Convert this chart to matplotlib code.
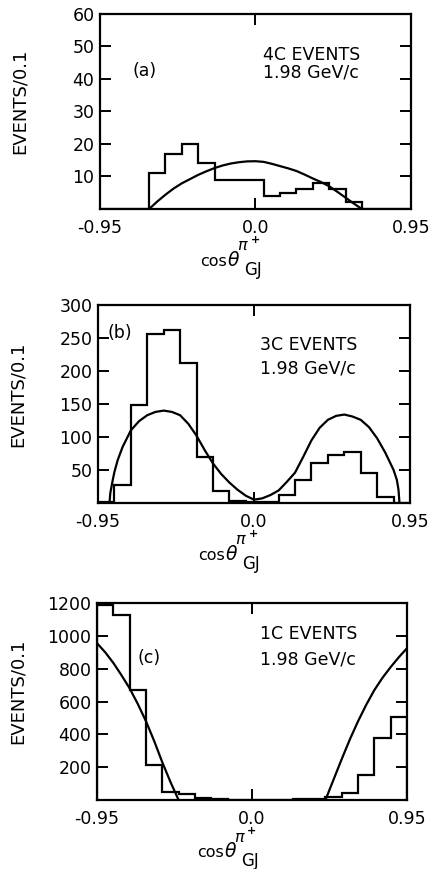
import numpy as np
import matplotlib
matplotlib.use("Agg")
import matplotlib.pyplot as plt

# bin edges, EVENTS/0.1
edges = np.linspace(-0.95, 0.95, 20)

# (a) 4C events
hist_a = [0, 0, 0, 11, 17, 20, 14, 9, 9, 9, 4, 5, 6, 8, 6, 2, 0, 0, 0]
curve_a_x = [-0.65, -0.6, -0.55, -0.5, -0.45, -0.4, -0.35, -0.3, -0.25, -0.2, -0.15, -0.1, -0.05,
             0.0, 0.05, 0.1, 0.15, 0.2, 0.25, 0.3, 0.35, 0.4, 0.45, 0.5, 0.55, 0.6, 0.65]
curve_a_y = [0, 2.3, 4.4, 6.3, 7.9, 9.2, 10.5, 11.6, 12.6, 13.4, 14.0, 14.4, 14.65,
             14.7, 14.5, 13.9, 13.2, 12.5, 11.7, 10.6, 9.4, 8.3, 7.0, 5.3, 3.5, 1.7, 0]

# (b) 3C events
hist_b = [2, 28, 148, 256, 262, 212, 70, 18, 3, 2, 2, 12, 35, 61, 72, 78, 46, 9, 0]
curve_b_x = [-0.88, -0.875, -0.86, -0.85, -0.83, -0.8, -0.75, -0.7, -0.65, -0.6, -0.55, -0.5,
             -0.45, -0.4, -0.35, -0.3, -0.25, -0.2, -0.15, -0.1, -0.05, 0.0, 0.05, 0.1,
             0.15, 0.2, 0.25, 0.3, 0.35, 0.4, 0.45, 0.5, 0.55, 0.6, 0.65, 0.7, 0.75, 0.8,
             0.85, 0.87, 0.88, 0.886]
curve_b_y = [0, 15, 35, 47, 65, 85, 110, 124, 133, 138, 140, 138,
             133, 120, 102, 80, 60, 44, 31, 20, 11, 5, 7, 12,
             19, 32, 46, 70, 95, 114, 126, 132, 134, 131, 126, 115, 98, 76,
             50, 35, 20, 0]

# (c) 1C events
hist_c = [1185, 1125, 670, 215, 50, 35, 12, 4, 2, 0, 0, 2, 4, 5, 20, 42, 155, 380, 505]
curve_c_left_x = [-0.95, -0.9, -0.85, -0.8, -0.75, -0.7, -0.65, -0.6, -0.55, -0.5, -0.45]
curve_c_left_y = [955, 900, 835, 760, 680, 585, 480, 360, 230, 110, 0]
curve_c_right_x = [0.45, 0.5, 0.55, 0.6, 0.65, 0.7, 0.75, 0.8, 0.85, 0.9, 0.95]
curve_c_right_y = [0, 125, 250, 370, 480, 580, 670, 745, 810, 870, 925]

W, H = 443, 869
fig = plt.figure(figsize=(W / 100, H / 100), dpi=100)
fs = 12.5
lw = 1.6


def px(x, y):
    # figure pixels (from top-left) -> figure fraction
    return x / W, 1 - y / H


def xlabel(left, bottom):
    # cos theta^{pi+}_{GJ} built from pieces, placed under the axes
    fig.text(*px(left + 100, bottom + 57), "cos", fontsize=fs - 1, va="baseline", ha="left")
    fig.text(*px(left + 127, bottom + 57), r"$\theta$", fontsize=fs + 1, va="baseline", ha="left")
    fig.text(*px(left + 143, bottom + 37), r"$\pi$", fontsize=fs - 1, va="center", ha="center")
    fig.text(*px(left + 155, bottom + 31), "+", fontsize=8, va="center", ha="center",
             fontweight="bold")
    fig.text(*px(left + 144, bottom + 61), "GJ", fontsize=fs - 0.5, va="center", ha="left")


def setup(ax, ymax, yticks, tag, name, tagpos, txtpos, spacing):
    ax.set_xlim(-0.95, 0.95)
    ax.set_ylim(0, ymax)
    for s in ax.spines.values():
        s.set_linewidth(1.6)
    ax.set_xticks([-0.95, 0.0, 0.95])
    ax.set_xticklabels(["-0.95", "0.0", "0.95"], fontsize=fs)
    ax.set_yticks(yticks)
    ax.set_yticklabels([str(v) for v in yticks], fontsize=fs)
    ax.tick_params(axis="y", direction="in", left=True, right=True, length=8, width=1.4, pad=4)
    ax.tick_params(axis="x", direction="in", top=True, bottom=True, length=8, width=1.4, pad=7)
    ax.set_ylabel("EVENTS/0.1", fontsize=fs + 0.5)
    ax.yaxis.set_label_coords(-0.228, 0.55)
    ax.text(tagpos[0], tagpos[1], tag, fontsize=fs, va="center", ha="left")
    ax.text(txtpos[0], txtpos[1], name + "\n1.98 GeV/c", fontsize=fs, va="center", ha="left",
            linespacing=spacing)


ax_a = fig.add_axes([0.2257, 0.7595, 0.7020, 0.2244])
ax_a.stairs(hist_a, edges, color="black", lw=lw)
ax_a.plot(curve_a_x, curve_a_y, color="black", lw=lw)
setup(ax_a, 60, [10, 20, 30, 40, 50, 60], "(a)", "4C EVENTS", (-0.75, 42.6), (0.045, 44.6), 0.95)
xlabel(100, 209)

ax_b = fig.add_axes([0.2212, 0.4212, 0.7043, 0.2278])
ax_b.stairs(hist_b, edges, color="black", lw=lw)
ax_b.plot(curve_b_x, curve_b_y, color="black", lw=lw)
setup(ax_b, 300, [50, 100, 150, 200, 250, 300], "(b)", "3C EVENTS", (-0.895, 258), (0.037, 221.6), 1.43)
xlabel(98, 503)

ax_c = fig.add_axes([0.2190, 0.0794, 0.6998, 0.2267])
ax_c.stairs(hist_c, edges, color="black", lw=lw)
ax_c.plot(curve_c_left_x, curve_c_left_y, color="black", lw=lw)
ax_c.plot(curve_c_right_x, curve_c_right_y, color="black", lw=lw)
setup(ax_c, 1200, [200, 400, 600, 800, 1000, 1200], "(c)", "1C EVENTS", (-0.70, 862), (0.05, 935), 1.55)
xlabel(97, 800)

fig.savefig("out.png", dpi=100)
